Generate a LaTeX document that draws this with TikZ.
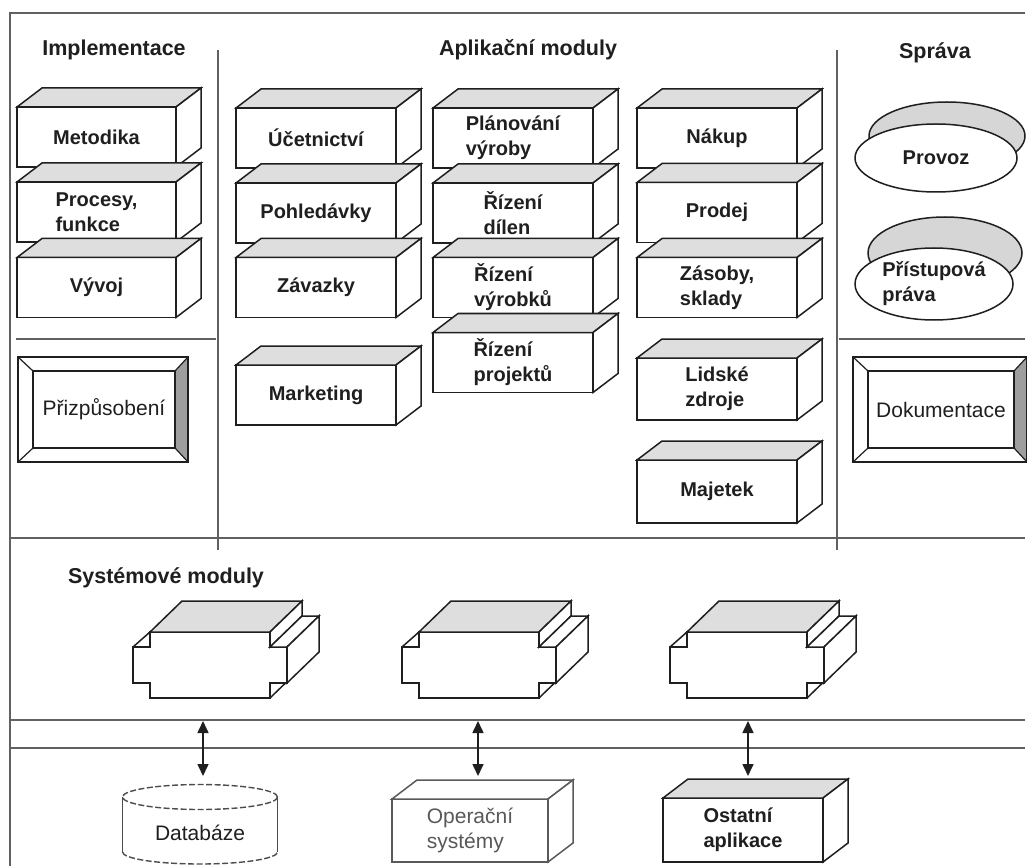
\documentclass[tikz,border=0pt]{standalone}
\usepackage{fontspec}
\setmainfont{Liberation Sans}
\usetikzlibrary{calc,shapes.geometric,arrows.meta}
\definecolor{topgray}{gray}{0.87}
\definecolor{ellgray}{gray}{0.84}
\definecolor{bevgray}{gray}{0.62}
\definecolor{frm}{gray}{0.38}
\definecolor{lite}{gray}{0.35}
\definecolor{ink}{gray}{0.12}
\tikzset{
  boxline/.style={line width=1.5pt, draw=ink, line join=miter},
  frontbox/.style={boxline, fill=white, rectangle, minimum width=160pt, minimum height=60pt,
    inner sep=0pt, outer sep=0pt, align=left, text=ink, font=\fontsize{20}{25}\selectfont\bfseries},
  hdr/.style={font=\fontsize{21.5}{26}\selectfont\bfseries, inner sep=0pt, text=ink},
  framel/.style={line width=1.8pt, draw=frm},
  bevtext/.style={rectangle, minimum height=77pt, inner sep=0pt, outer sep=0pt, text=ink,
    font=\fontsize{21}{25}\selectfont},
  bevthin/.style={line width=1.2pt, draw=ink},
  bevouter/.style={line width=2pt, draw=ink},
  ell/.style={ellipse, boxline, inner sep=0pt, outer sep=0pt, align=left, text=ink},
  cylside/.style={line width=1.4pt, draw=black!70},
  cyldash/.style={line width=1.4pt, draw=black!70, dash pattern=on 6pt off 2.5pt},
  dbl/.style={line width=1.6pt, draw=ink, {Triangle[length=12pt,width=11pt]}-{Triangle[length=12pt,width=11pt]}}
}
% [node options]{name}{cx}{cy}{text}{line colour}{top fill}
\newcommand\tdbox[7][]{%
  \node[frontbox,draw=#6,#1] (#2) at (#3,#4) {#5};
  \filldraw[boxline,draw=#6,fill=#7] (#2.north west) -- ++(25,-19) -- ($(#2.north east)+(25,-19)$) -- (#2.north east) -- cycle;
  \filldraw[boxline,draw=#6,fill=white] (#2.north east) -- ++(25,-19) -- ($(#2.south east)+(25,-19)$) -- (#2.south east) -- cycle;
}
% {name}{cx}{cy}{inner width}{text}
\newcommand\bevbox[5]{%
  \node[bevtext, minimum width=#4pt] (#1) at (#2,#3) {#5};
  \coordinate (#1-a) at ($(#1.north west)+(-15,-14)$);
  \coordinate (#1-b) at ($(#1.north east)+(13,-14)$);
  \coordinate (#1-c) at ($(#1.south east)+(13,14)$);
  \coordinate (#1-d) at ($(#1.south west)+(-15,14)$);
  \fill[bevgray] (#1.north east) -- (#1-b) -- (#1-c) -- (#1.south east) -- cycle;
  \draw[bevthin] (#1-a) -- (#1.north west) (#1-b) -- (#1.north east)
                 (#1-c) -- (#1.south east) (#1-d) -- (#1.south west);
  \draw[bevthin] (#1.north west) rectangle (#1.south east);
  \draw[bevouter] (#1-a) rectangle (#1-c);
}
% {name}{front top-left x}
\newcommand\sysmod[2]{%
  \begin{scope}[shift={(#2,632)}]
    \coordinate (#1) at (60,33);
    \filldraw[boxline,fill=white] (0,0) -- (120,0) -- (120,15) -- (137,15) -- (137,51) -- (120,51)
      -- (120,66) -- (0,66) -- (0,51) -- (-17,51) -- (-17,15) -- (0,15) -- cycle;
    \filldraw[boxline,fill=topgray] (0,0) -- (32,-31) -- (152,-31) -- (120,0) -- cycle;
    \filldraw[boxline,fill=white] (120,0) -- (152,-31) -- (152,-16) -- (120,15) -- cycle;
    \filldraw[boxline,fill=white] (120,15) -- (152,-16) -- (169,-16) -- (137,15) -- cycle;
    \filldraw[boxline,fill=white] (137,15) -- (169,-16) -- (169,20) -- (137,51) -- cycle;
    \draw[boxline] (-17,15) -- (0,0);
    \draw[boxline] (120,66) -- (135.5,51);
  \end{scope}}
\begin{document}
\begin{tikzpicture}[x=1pt,y=-1pt]
\useasboundingbox (0,0) rectangle (1027,866);
\fill[white] (0,0) rectangle (1027,866);
% frame
\draw[framel] (10,866) -- (10,13) -- (1025,13);
\draw[framel] (218,50) -- (218,550);
\draw[framel] (837,50) -- (837,550);
\draw[framel] (16,339) -- (216,339);
\draw[framel] (839,339) -- (1025,339);
\draw[framel] (10,538) -- (1025,538);
\draw[framel] (10,720) -- (1025,720);
\draw[framel] (10,748) -- (1025,748);
% headers
\node[hdr] (h1) at (114,50) {Implementace};
\node[hdr] (h2) at (528,50) {Aplikační moduly};
\node[hdr] (h3) at (935,53) {Správa};
\node[hdr] (h4) at (166,578) {Systémové moduly};
% implementation column
\tdbox[minimum width=159pt]{met}{96.5}{137}{Metodika}{ink}{topgray}
\tdbox[minimum width=159pt]{proc}{96.5}{212}{Procesy,\\funkce}{ink}{topgray}
\tdbox[minimum width=159pt]{vyv}{96.5}{287.5}{Vývoj}{ink}{topgray}
% application modules
\tdbox{uce}{316}{138}{Účetnictví}{ink}{topgray}
\tdbox{poh}{316}{213}{Pohledávky}{ink}{topgray}
\tdbox{zav}{316}{287.5}{Závazky}{ink}{topgray}
\tdbox{mark}{316}{395}{Marketing}{ink}{topgray}
\tdbox{plan}{513}{138}{Plánování\\výroby}{ink}{topgray}
\tdbox{dil}{513}{213}{Řízení\\dílen}{ink}{topgray}
\tdbox{vyr}{513}{287.5}{Řízení\\výrobků}{ink}{topgray}
\tdbox{proj}{513}{362.5}{Řízení\\projektů}{ink}{topgray}
\tdbox{nak}{717}{138}{Nákup}{ink}{topgray}
\tdbox{prod}{717}{212.5}{Prodej}{ink}{topgray}
\tdbox{zas}{717}{287.5}{Zásoby,\\sklady}{ink}{topgray}
\tdbox[minimum height=62pt]{lid}{717}{389}{Lidské\\zdroje}{ink}{topgray}
\tdbox[minimum height=63pt]{maj}{717}{491.5}{Majetek}{ink}{topgray}
% bevel boxes
\bevbox{priz}{104}{409.5}{142}{Přizpůsobení}
\bevbox{dok}{941}{409.5}{146}{Dokumentace}
% Sprava ellipses
\node[ell, fill=ellgray, minimum width=156pt, minimum height=68pt] (provb) at (947,136) {};
\node[ell, fill=white, minimum width=162pt, minimum height=68pt, font=\fontsize{20}{25}\selectfont\bfseries] (prov) at (936,158) {Provoz};
\node[ell, fill=ellgray, minimum width=154pt, minimum height=72pt] (prab) at (945,253) {};
\node[ell, fill=white, minimum width=158pt, minimum height=72pt, font=\fontsize{20}{25}\selectfont\bfseries] (pra) at (934,284) {Přístupová\\práva};
% system modules
\sysmod{sm1}{150}
\sysmod{sm2}{419}
\sysmod{sm3}{687}
% database cylinder
\node[font=\fontsize{21}{25}\selectfont, text=ink, inner sep=0pt] (db) at (200,833) {Databáze};
\draw[cylside] (122.5,797) -- (122.5,852) (277.5,797) -- (277.5,852);
\draw[cyldash] (200,797) ellipse [x radius=77.5pt, y radius=12.5pt];
\draw[cyldash] (122.5,852) arc[start angle=180, end angle=360, x radius=77.5pt, y radius=12pt];
% bottom boxes
\tdbox[minimum width=156pt, minimum height=63pt, text=lite, font=\fontsize{21}{25}\selectfont, line width=1.2pt]{os}{470}{830.5}{Operační\\systémy}{lite}{white}
\tdbox[minimum height=64pt]{ost}{743}{830}{Ostatní\\aplikace}{ink}{topgray}
% arrows
\coordinate (a1s) at (203,721); \coordinate (a1e) at (203,776);
\coordinate (a2s) at (478,721); \coordinate (a2e) at (478,776);
\coordinate (a3s) at (748,721); \coordinate (a3e) at (748,776);
\draw[dbl] (a1s) -- (a1e);
\draw[dbl] (a2s) -- (a2e);
\draw[dbl] (a3s) -- (a3e);
\end{tikzpicture}
\end{document}
